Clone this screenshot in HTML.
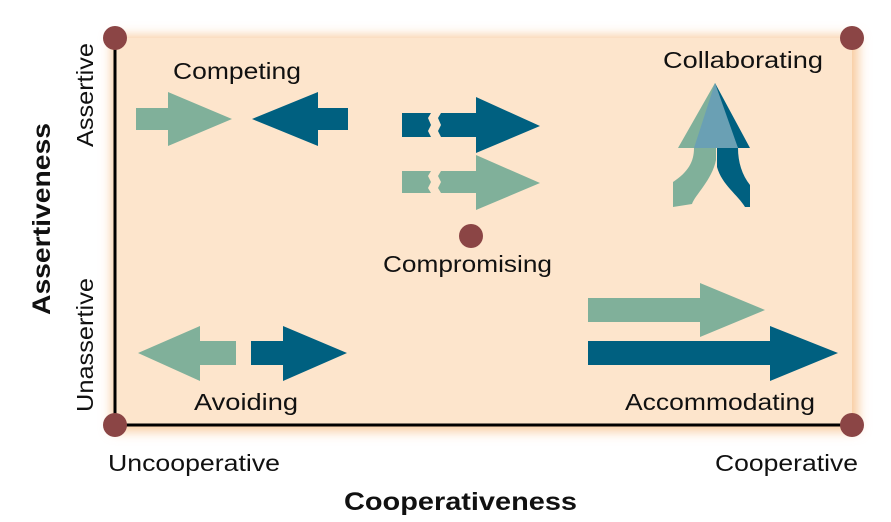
<!DOCTYPE html>
<html><head><style>html,body{margin:0;padding:0;background:#fff}svg{display:block}</style></head>
<body>
<svg width="891" height="522" viewBox="0 0 891 522" xmlns="http://www.w3.org/2000/svg" font-family="Liberation Sans, sans-serif">
<defs>
<filter id="g" x="-10%" y="-10%" width="120%" height="120%"><feGaussianBlur stdDeviation="6"/></filter>
</defs>
<rect x="112" y="36" width="746" height="395" fill="#f8c89a" filter="url(#g)"/>
<rect x="115" y="38" width="737" height="387" fill="#fde5cc"/>
<path d="M115 38 V425 H852" fill="none" stroke="#000" stroke-width="3"/>
<g fill="#80b09a">
<path d="M136 108 H168 V92 L232 119 L168 146 V130 H136 Z"/>
<path d="M402 171 H431 L428 176 L431 182 L428 188 L431 193 H402 Z M441 171 H476 V155 L540 183 L476 210 V193 H441 L438 188 L441 182 L438 176 Z"/>
<path d="M138 353 L200 326 V341 H236 V365 H200 V381 Z"/>
<path d="M588 298 H700 V283 L765 310 L700 337 V322 H588 Z"/>
<path d="M673 207 V182 C688 172 694 162 694 148 H678 L715 83 L716 148 V160 C712 180 695 195 692 204 Z"/>
</g>
<g fill="#006080">
<path d="M348 108 H318 V92 L252 119 L318 146 V130 H348 Z"/>
<path d="M402 113 H431 L428 118 L431 125 L428 131 L431 137 H402 Z M441 113 H476 V97 L540 126 L476 153 V137 H441 L438 131 L441 125 L438 118 Z"/>
<path d="M251 341 H283 V326 L347 353 L283 381 V365 H251 Z"/>
<path d="M588 341 H770 V326 L838 353 L770 381 V365 H588 Z"/>
<path d="M750 207 V185 C742 175 738 162 738 148 H750 L715 83 V148 H717 V167 C722 185 738 195 745 207 Z"/>
</g>
<path d="M715 83 L738 148 H694 Z" fill="#6aa0b4"/>
<g fill="#8b4545">
<circle cx="115" cy="38" r="12"/><circle cx="852" cy="38" r="12"/>
<circle cx="115" cy="425" r="12"/><circle cx="852" cy="425" r="12"/>
<circle cx="471" cy="236" r="12"/>
</g>
<g font-size="23" fill="#111" lengthAdjust="spacingAndGlyphs">
<text x="173" y="79" textLength="128" lengthAdjust="spacingAndGlyphs">Competing</text>
<text x="663" y="68" textLength="160" lengthAdjust="spacingAndGlyphs">Collaborating</text>
<text x="383" y="272" textLength="169" lengthAdjust="spacingAndGlyphs">Compromising</text>
<text x="194" y="410" textLength="104" lengthAdjust="spacingAndGlyphs">Avoiding</text>
<text x="625" y="410" textLength="190" lengthAdjust="spacingAndGlyphs">Accommodating</text>
<text x="108" y="471" textLength="172" lengthAdjust="spacingAndGlyphs">Uncooperative</text>
<text x="715" y="471" textLength="143" lengthAdjust="spacingAndGlyphs">Cooperative</text>
<text x="344" y="510" font-weight="bold" font-size="25" textLength="233" lengthAdjust="spacingAndGlyphs">Cooperativeness</text>
<text transform="translate(93,147) rotate(-90)" textLength="104" lengthAdjust="spacingAndGlyphs">Assertive</text>
<text transform="translate(93,412) rotate(-90)" textLength="134" lengthAdjust="spacingAndGlyphs">Unassertive</text>
<text transform="translate(50,315) rotate(-90)" font-weight="bold" font-size="25" textLength="192" lengthAdjust="spacingAndGlyphs">Assertiveness</text>
</g>
</svg>
</body></html>
